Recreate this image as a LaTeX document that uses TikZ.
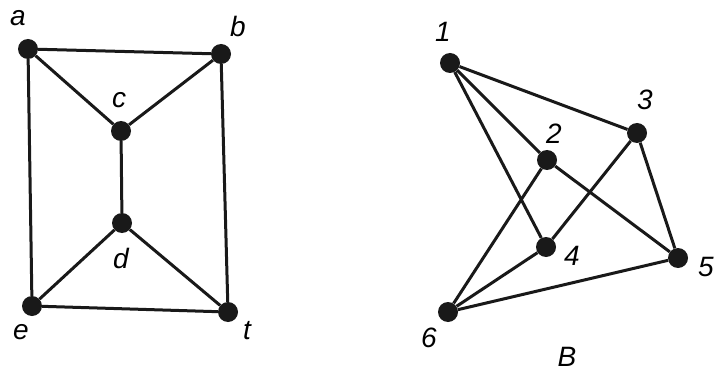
\documentclass[tikz,border=0pt]{standalone}
\usepackage{fontspec}
\setmainfont{Liberation Sans}
\begin{document}
\begin{tikzpicture}[x=1pt,y=-1pt,
  vtx/.style={circle,fill=black!90,draw=none,minimum size=20pt,inner sep=0pt},
  lbl/.style={font=\fontsize{28}{32}\selectfont\itshape,inner sep=0pt},
  edge/.style={line width=3pt,black!90}]
\useasboundingbox (0,0) rectangle (719,374);
% left graph
\node[vtx] (a) at (28,49) {};
\node[vtx] (b) at (221,54) {};
\node[vtx] (c) at (121,131) {};
\node[vtx] (d) at (122,223) {};
\node[vtx] (e) at (32,306) {};
\node[vtx] (f) at (228,312) {};
\node[lbl] (la) at (18,18) {a};
\node[lbl] (lb) at (238,26) {b};
\node[lbl] (lc) at (119,100) {c};
\node[lbl] (ld) at (121,258) {d};
\node[lbl] (le) at (21,332) {e};
\node[lbl] (lf) at (247,331) {t};
\draw[edge] (a) -- (b) (a) -- (c) (b) -- (c) (a) -- (e) (b) -- (f)
  (c) -- (d) (d) -- (e) (d) -- (f) (e) -- (f);
% right graph
\node[vtx] (n1) at (450,63) {};
\node[vtx] (n2) at (547,160) {};
\node[vtx] (n3) at (637,133) {};
\node[vtx] (n4) at (546,247) {};
\node[vtx] (n5) at (678,258) {};
\node[vtx] (n6) at (448,312) {};
\node[lbl] (l1) at (443,32) {1};
\node[lbl] (l2) at (554,134) {2};
\node[lbl] (l3) at (645,100) {3};
\node[lbl] (l4) at (572,256) {4};
\node[lbl] (l5) at (706,267) {5};
\node[lbl] (l6) at (429,338) {6};
\node[lbl] (lB) at (567,357) {B};
\draw[edge] (n1) -- (n3) (n1) -- (n2) (n1) -- (n4) (n2) -- (n5) (n2) -- (n6)
  (n3) -- (n4) (n3) -- (n5) (n4) -- (n6) (n5) -- (n6);
\end{tikzpicture}
\end{document}
